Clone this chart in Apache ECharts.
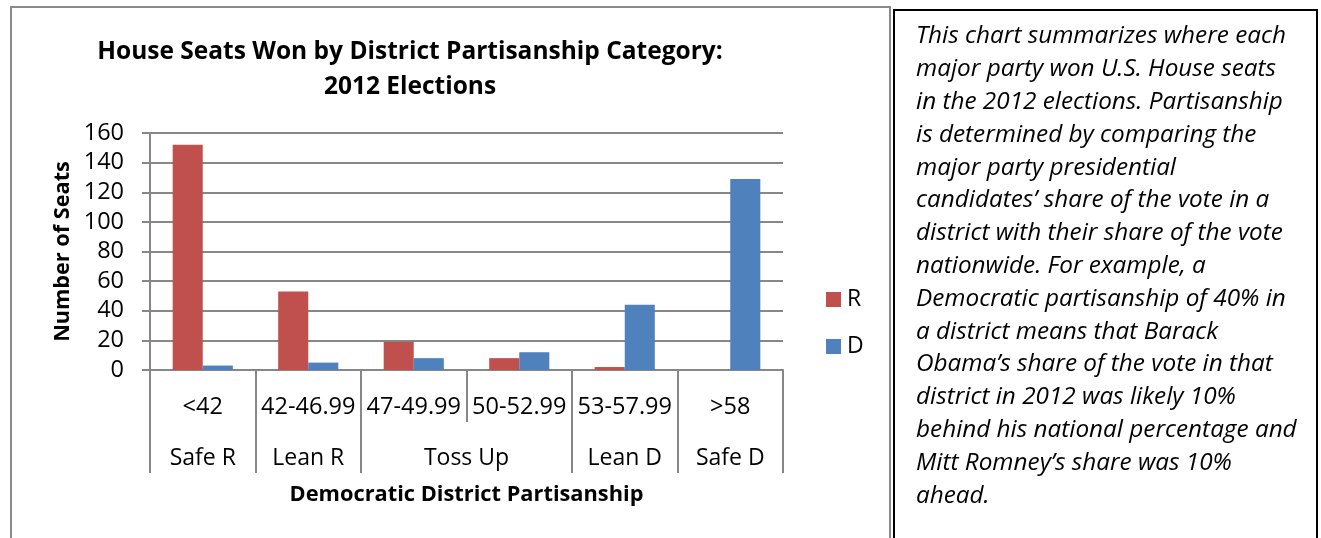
<!DOCTYPE html>
<html><head><meta charset="utf-8">
<script src="https://cdn.jsdelivr.net/npm/echarts@6/dist/echarts.min.js"></script>
<style>html,body{margin:0;padding:0;background:#fff}#c{width:1321px;height:538px}</style>
</head><body><div id="c"></div>
<script>
const categories = ['<42', '42-46.99', '47-49.99', '50-52.99', '53-57.99', '>58'];
const groupLabels = ['Safe R', 'Lean R', 'Toss Up', 'Lean D', 'Safe D'];
const groupCenters = [0.5, 1.5, 3, 4.5, 5.5];
const groupBounds = [0, 1, 2, 4, 5, 6];
const seriesR = [152, 53, 19, 8, 2, 0];
const seriesD = [3, 5, 8, 12, 44, 129];
const yTicks = [0, 20, 40, 60, 80, 100, 120, 140, 160];
const noteLines = [
  'This chart summarizes where each',
  'major party won U.S. House seats',
  'in the 2012 elections. Partisanship',
  'is determined by comparing the',
  'major party presidential',
  'candidates\u2019 share of the vote in a',
  'district with their share of the vote',
  'nationwide. For example, a',
  'Democratic partisanship of 40% in',
  'a district means that Barack',
  'Obama\u2019s share of the vote in that',
  'district in 2012 was likely 10%',
  'behind his national percentage and',
  'Mitt Romney\u2019s share was 10%',
  'ahead.'
];

const FONT = 'Open Sans';
const GRAY = '#878787';
const chart = echarts.init(document.getElementById('c'), null, {renderer: 'canvas'});
chart.setOption({
  backgroundColor: '#fff',
  animation: false,
  textStyle: {fontFamily: FONT, color: '#000'},
  title: {
    text: 'House Seats Won by District Partisanship Category:\n2012 Elections',
    left: 405, top: 30, textAlign: 'center',
    textStyle: {fontFamily: FONT, fontWeight: 'bold', fontSize: 24.5, lineHeight: 35, color: '#000'}
  },
  legend: {
    orient: 'vertical', left: 821, top: 283,
    itemWidth: 15, itemHeight: 15, itemGap: 24,
    icon: 'rect',
    textStyle: {fontFamily: FONT, fontSize: 23, color: '#000', padding: [0, 0, 0, 1]},
    data: ['R', 'D']
  },
  grid: {left: 150, right: 538, top: 133, bottom: 168, containLabel: false},
  xAxis: [{
    type: 'category', data: categories, position: 'bottom',
    axisLine: {show: true, lineStyle: {color: GRAY, width: 2}},
    axisTick: {show: true, interval: 0, length: 52, lineStyle: {color: GRAY, width: 2}},
    axisLabel: {fontFamily: FONT, fontSize: 23.5, color: '#000', margin: 25, interval: 0, hideOverlap: false},
    splitLine: {show: false}
  }, {
    type: 'value', min: 0, max: 6, position: 'bottom', offset: 52,
    axisLine: {show: false},
    axisTick: {show: true, length: 51, customValues: groupBounds, lineStyle: {color: GRAY, width: 2}},
    axisLabel: {
      fontFamily: FONT, fontSize: 23, color: '#000', margin: 25, hideOverlap: false,
      customValues: groupCenters,
      formatter: function (v) { const i = groupCenters.indexOf(v); return i >= 0 ? groupLabels[i] : ''; }
    },
    splitLine: {show: false},
    name: 'Democratic District Partisanship', nameLocation: 'middle', nameGap: 62,
    nameTextStyle: {fontFamily: FONT, fontWeight: 'bold', fontSize: 21.8, color: '#000'}
  }],
  yAxis: {
    type: 'value', min: 0, max: 160, interval: 20,
    axisLine: {show: true, lineStyle: {color: GRAY, width: 2}},
    axisTick: {show: true, length: 8, lineStyle: {color: GRAY, width: 2}},
    axisLabel: {fontFamily: FONT, fontSize: 23.5, color: '#000', margin: 26,
      formatter: function (v) { return yTicks.indexOf(v) >= 0 ? String(v) : ''; }},
    splitLine: {show: true, lineStyle: {color: GRAY, width: 2}},
    name: 'Number of Seats', nameLocation: 'middle', nameGap: 76,
    nameTextStyle: {fontFamily: FONT, fontWeight: 'bold', fontSize: 21.7, color: '#000'}
  },
  series: [{
    name: 'R', type: 'bar', data: seriesR, xAxisIndex: 0,
    barGap: '0%', barCategoryGap: '43%',
    itemStyle: {color: '#C0504D'}
  }, {
    name: 'D', type: 'bar', data: seriesD, xAxisIndex: 0,
    barGap: '0%', barCategoryGap: '43%',
    itemStyle: {color: '#4F81BD'}
  }],
  graphic: [{
    type: 'rect', shape: {x: 11, y: 7, width: 879, height: 560},
    style: {fill: 'none', stroke: '#8a8a8a', lineWidth: 2}, silent: true
  }, {
    type: 'rect', shape: {x: 894, y: 10, width: 423, height: 560},
    style: {fill: 'none', stroke: '#000', lineWidth: 2}, silent: true
  }, {
    type: 'text', x: 916, y: 20,
    style: {text: noteLines.join('\n'), fontFamily: FONT, fontStyle: 'italic', fontSize: 24.3,
      lineHeight: 32.8, fill: '#000', verticalAlign: 'top', align: 'left'}, silent: true
  }]
});
</script></body></html>
